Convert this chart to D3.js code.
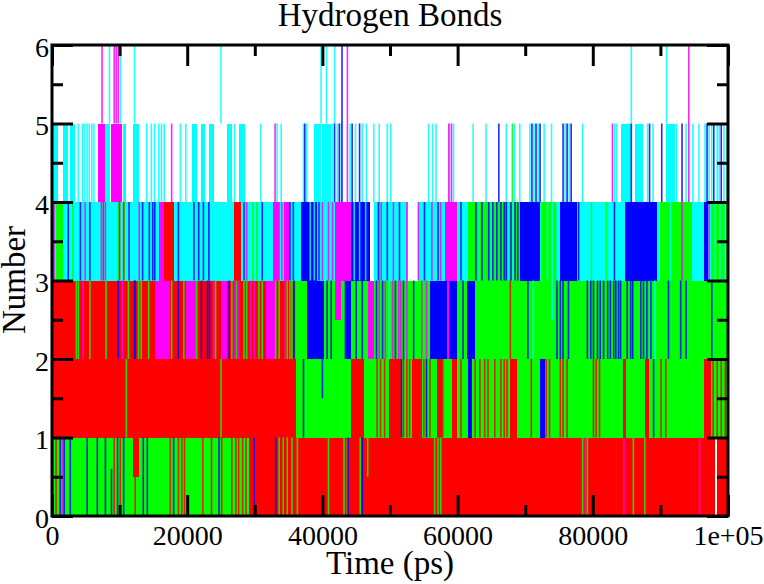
<!DOCTYPE html>
<html>
<head>
<meta charset="utf-8">
<script src="https://cdn.jsdelivr.net/npm/d3@7"></script>
<style>
  body { margin: 0; background: #fff; }
  svg text { font-family: "Liberation Serif", "Times New Roman", Tinos, "DejaVu Serif", serif; fill: #000; }
</style>
</head>
<body>
<svg id="chart" width="764" height="584"></svg>
<script>
var serifFont = '"Liberation Serif", "Times New Roman", Tinos, "DejaVu Serif", serif';

// axis ticks
var xMajor = [0, 20000, 40000, 60000, 80000, 100000];
var xMinor = [10000, 30000, 50000, 70000, 90000];
var xLabels = ["0", "20000", "40000", "60000", "80000", "1e+05"];
var yMajor = [0, 1, 2, 3, 4, 5, 6];
var yMinor = [0.5, 1.5, 2.5, 3.5, 4.5, 5.5];

// each set: bands = [tStart, tEnd, low, high] where the count
// flickers densely between low and high, lines = [t, low, high] single excursions
var cyanBands = [
  [0, 46900, 3, 4], [47700, 52600, 3, 4], [54100, 100000, 3, 4],
  [0, 900, 4, 5], [1600, 2400, 4, 5], [2700, 3400, 4, 5], [7900, 8600, 4, 5],
  [10500, 11000, 4, 5], [12000, 12800, 4, 5], [20700, 21400, 4, 5], [22000, 22600, 4, 5],
  [23200, 23900, 4, 5], [25900, 26600, 4, 5], [27600, 28500, 4, 5], [38800, 39800, 4, 5],
  [40000, 41300, 4, 5], [84100, 85600, 4, 5], [86300, 87400, 4, 5], [90800, 92100, 4, 5]
];
var cyanLines = [
  [8500,5,6],[10100,5,6],[12200,5,6],[25000,5,6],[39800,5,6],[40600,5,6],[41800,5,6],[85700,5,6],[90900,5,6],
  [3900,4,5],[4500,4,5],[4800,4,5],[5200,4,5],[5500,4,5],[5900,4,5],[6200,4,5],
  [14000,4,5],[14700,4,5],[15200,4,5],[15800,4,5],[16200,4,5],[16600,4,5],[19000,4,5],[19800,4,5],
  [27000,4,5],[30900,4,5],[33300,4,5],[33900,4,5],[37200,4,5],[37700,4,5],[41500,4,5],[42200,4,5],
  [42800,4,5],[44100,4,5],[44900,4,5],[45900,4,5],[46500,4,5],[47600,4,5],[48400,4,5],[49600,4,5],
  [50100,4,5],[55700,4,5],[56300,4,5],[56800,4,5],[58800,4,5],[59400,4,5],[62300,4,5],[64200,4,5],
  [67200,4,5],[68400,4,5],[69200,4,5],[70700,4,5],[71300,4,5],[71900,4,5],[72800,4,5],[73900,4,5],
  [75900,4,5],[76500,4,5],[78500,4,5],[83200,4,5],[83500,4,5],[85300,4,5],[88100,4,5],[88900,4,5],
  [92400,4,5],[93800,4,5],[94800,4,5],[95700,4,5],[96600,4,5],[97200,4,5],[97600,4,5],[98400,4,5],
  [98700,4,5],[99400,4,5],[99900,4,5],
  [1800,3,4],[2200,3,4],[12200,3,4],[13800,3,4],[28100,3,4],[36100,3,4],[38200,3,4],[38800,3,4],
  [40400,3,4],[41200,3,4],[44700,3,4],[45500,3,4],[46400,3,4],[47800,3,4],[49200,3,4],[50100,3,4],
  [51000,3,4],[52000,3,4],[54700,3,4],[55600,3,4],[56600,3,4],[60900,3,4],[63200,3,4],[65000,3,4],
  [67500,3,4],[68200,3,4],[73300,3,4],[74000,3,4],[74700,3,4],[84100,3,4],[91500,3,4],[98100,3,4],
  [98800,3,4],[99600,3,4],
  [49900,2,3],[71200,2,3],[74000,2.5,3],[88600,2,3],[89200,2,3]
];

var greenBands = [
  [0, 29100, 0, 1], [36100, 100000, 1, 3], [600, 1600, 3, 4], [61500, 69200, 3, 4],
  [72500, 74700, 3, 4], [90000, 94700, 3, 4], [97500, 100000, 3, 4]
];
var greenLines = [
  [33600,0,1],[34200,0,1],[34800,0,1],[35500,0,1],[36300,0,1],[40900,0,1],[43200,0,1],[43700,0,1],
  [45600,0,1],[46700,0.5,1],[56600,0,1],[57100,0,1],[57500,0,1],[78500,0,1],[79200,0,1],[86000,0,1],[87700,0,1],
  [11000,1,2],[25000,1,2],
  [3600,2,3],[3900,2,3],[5600,2,3],[8000,2,3],[11300,2,3],[12800,2,3],[13200,2,3],[14300,2,3],
  [17700,2,3],[19500,2,3],[21400,2,3],[24200,2,3],[26600,2,3],[27300,2,3],[28400,2,3],[28800,2,3],
  [30600,2,3],[31100,2,3],[33100,2,3],[33600,2,3],[34800,2,3],[35200,2,3],[35500,2,3],[36000,2,3],
  [3100,3,4],[9800,3,4],[10700,3,4],[29700,3,4],[30300,3,4],[72400,3,4],[79800,3,4],[82000,3,4],
  [68100,4,5]
];

var redBands = [
  [0, 36100, 1, 3], [29100, 98100, 0, 1], [98300, 100000, 0, 1], [12000, 12800, 0.5, 1],
  [44300, 46200, 1, 2], [49900, 51700, 1, 2], [53200, 54700, 1, 2], [56900, 57700, 1, 2],
  [59100, 59900, 1, 2], [67800, 68800, 1, 2], [84400, 84900, 1, 2], [87700, 88300, 1, 2],
  [96400, 97500, 1, 2], [16500, 18000, 3, 4], [26900, 27900, 3, 4]
];
var redLines = [
  [100,0,1],[600,0,1],[9200,0,1],[10100,0,1],[12300,0,1],[17500,0,1],[18700,0,1],[19200,0,1],
  [19600,0,1],[22300,0,1],[23600,0,1],[25100,0,1],[26600,0,1],[27200,0,1],[27600,0,1],[28200,0,1],[28700,0,1],
  [48100,1,2],[48600,1,2],[49200,1,2],[52000,1,2],[52500,1,2],[52900,1,2],[55000,1,2],[55900,1,2],
  [57800,1,2],[60500,1,2],[62600,1,2],[63300,1,2],[64000,1,2],[64500,1,2],[65500,1,2],[66400,1,2],
  [66900,1,2],[67300,1,2],[70900,1,2],[73100,1,2],[73600,1,2],[75200,1,2],[75600,1,2],[76200,1,2],
  [80100,1,2],[80500,1,2],[81000,1,2],[90100,1,2],[90800,1,2],[97800,1,2],[98400,1,2],[99000,1,2],[99600,1,2],
  [67800,2,3],
  [100,3,4],[7600,3,4],[10000,3,4],[10600,3,4]
];

var blueBands = [
  [37700, 40300, 2, 3], [43500, 44300, 2, 3], [55900, 58400, 2, 3], [58800, 59900, 2, 3],
  [61400, 62600, 2, 3], [36900, 39200, 3, 4], [44300, 47000, 3, 4], [69200, 72200, 3, 4],
  [75200, 77700, 3, 4], [84800, 89500, 3, 4], [96400, 97100, 3, 4], [61500, 62100, 1, 2], [72200, 72900, 1, 2]
];
var blueLines = [
  [1200,0,1],[1800,0,1],[2700,0,1],[5200,0,1],[6700,0,1],[7900,0,1],[8800,0,0.6],[9700,0,1],[10600,0,1],
  [13500,0,1],[14100,0,1],[18000,0,1],[24700,0,1],[29900,0,1],[33100,0,1],[43800,0,1],[45900,0,1],
  [37200,1,2],[40000,1.5,2],[51700,1,2],[55400,1,2],[89000,1,2],
  [9800,2,3],[12200,2,3],[12300,2,3],[18700,2,3],[22100,2,3],[23000,2,3],[23300,2,3],[26200,2,3],
  [35800,2,3],[40700,2,3],[41300,2,3],[43400,2,3],[45000,2,3],[45900,2,3],[48000,2,3],[48900,2,3],
  [50800,2,3],[52000,2,3],[53500,2,3],[60800,2,3],[70400,2,3],[74700,2,3],[75200,2,3],[75600,2,3],
  [76400,2,3],[79200,2,3],[79700,2,3],[80100,2,3],[80700,2,3],[81100,2,3],[81600,2,3],[82200,2,3],
  [82600,2,3],[83100,2,3],[83400,2,3],[83800,2,3],[84100,2,3],[85100,2,3],[85600,2,3],[85900,2,3],
  [87100,2,3],[87500,2,3],[88000,2,3],[88600,2,3],[91200,2,3],[93000,2,3],[93800,2,3],[97600,2,3],
  [2400,3,4],[4200,3,4],[5600,3,4],[11400,3,4],[13400,3,4],[14400,3,4],[14900,3,4],[15200,3,4],
  [18700,3,4],[21000,3,4],[21700,3,4],[22400,3,4],[23200,3,4],[28400,3,4],[31100,3,4],[35200,3,4],
  [35700,3,4],[39500,3,4],[48300,3,4],[49600,3,4],[51400,3,4],[55100,3,4],[57100,3,4],[60500,3,4],
  [62700,3,4],[63600,3,4],[64600,3,4],[65200,3,4],[65800,3,4],[66400,3,4],[66900,3,4],[67200,3,4],
  [67900,3,4],[68500,3,4],[68900,3,4],[77900,3,4],[83200,3,4],
  [37400,4,5],[41800,4,5],[42500,4,5],[42900,4,6],[44400,4,5],[45500,4,5],[66100,4,5],[71000,4,5],
  [71600,4,5],[72200,4,5],[75600,4,5],[76200,4,5],[76800,4,5],[85700,4,5],[88400,4,5],[90200,4,5],
  [93200,4,5],[96900,4,5],[97900,4,5],[99000,4,5]
];

var magentaBands = [
  [15300, 17500, 2, 3], [19800, 21300, 2, 3], [25000, 25900, 2, 3], [31700, 33100, 2, 3],
  [41800, 42800, 2.5, 3], [46700, 47700, 2, 3], [58400, 58800, 2, 3], [15800, 16500, 3, 4],
  [32700, 33600, 3, 4], [34300, 35100, 3, 4], [41800, 44300, 3, 4], [58100, 59900, 3, 4],
  [6800, 7900, 4, 5], [8800, 10300, 4, 5]
];
var magentaLines = [
  [1500,0,1],[78900,0,1],[84600,0,1],[95800,0,1],
  [4600,2,3],[10400,2,3],[23900,2,3],[27000,2,3],[27600,2,3],[29400,2,3],[29900,2,3],[34500,2,3],
  [48400,2,3],[49300,2,3],[50400,2,3],[51300,2,3],[51600,2,3],[52500,2,3],[54700,2,3],[55400,2,3],
  [100,3,4],[300,3,4],[4900,3,4],[7300,3,4],[7900,3,4],[12900,3,4],[28800,3,4],[33600,3,4],[34000,3,4],
  [40000,3,4],[40900,3,4],[41500,3,4],[48700,3,4],[50500,3,4],[52500,3,4],[54200,3,4],[56200,3,4],
  [57500,3,4],[93200,3,4],[97200,3,4],
  [17700,4,5],[33000,4,5],[43700,4,6],[58700,4,5],[59100,4,5],[82900,4,5],[94200,4,6],
  [7400,5,6],[9200,5,6],[9500,5,6],[9800,5,6]
];

// drawing order of the sets
var sets = [
  { color: "#00ffff", bands: cyanBands, lines: cyanLines },
  { color: "#00ff00", bands: greenBands, lines: greenLines },
  { color: "#ff0000", bands: redBands, lines: redLines },
  { color: "#0000ff", bands: blueBands, lines: blueLines },
  { color: "#ff00ff", bands: magentaBands, lines: magentaLines }
];

var svg = d3.select("#chart");
var x = d3.scaleLinear().domain([0, 100000]).range([52, 728]);
var y = d3.scaleLinear().domain([0, 6]).range([516, 45]);

svg.append("clipPath").attr("id", "plotClip")
  .append("rect")
  .attr("x", x(0)).attr("y", y(6))
  .attr("width", x(100000) - x(0)).attr("height", y(0) - y(6));

var plot = svg.append("g").attr("clip-path", "url(#plotClip)");

// first the dense bands, then the single excursions on top
sets.forEach(function (s) {
  plot.append("g")
    .selectAll("rect")
    .data(s.bands)
    .join("rect")
    .attr("x", function (d) { return x(d[0]); })
    .attr("width", function (d) { return x(d[1]) - x(d[0]); })
    .attr("y", function (d) { return y(d[3]); })
    .attr("height", function (d) { return y(d[2]) - y(d[3]); })
    .attr("fill", s.color)
    .attr("shape-rendering", "crispEdges");
});
sets.forEach(function (s) {
  plot.append("g")
    .selectAll("line")
    .data(s.lines)
    .join("line")
    .attr("x1", function (d) { return x(d[0]); })
    .attr("x2", function (d) { return x(d[0]); })
    .attr("y1", function (d) { return y(d[1]); })
    .attr("y2", function (d) { return y(d[2]); })
    .attr("stroke", s.color)
    .attr("stroke-width", 1.6)
    .attr("stroke-opacity", 0.85);
});

// axes with inward ticks on all four sides
function styleAxis(g) {
  g.attr("font-family", serifFont).attr("font-size", 28);
  g.select(".domain").remove();
  g.selectAll(".tick line").attr("stroke", "#000").attr("stroke-width", 3);
  g.selectAll("text").style("font-family", serifFont).style("font-size", "28px").attr("fill", "#000");
}

svg.append("g").attr("transform", "translate(0," + y(0) + ")")
  .call(d3.axisBottom(x).tickValues(xMajor).tickSizeInner(-21).tickSizeOuter(0).tickPadding(9)
    .tickFormat(function (d, i) { return xLabels[i]; }))
  .call(styleAxis);
svg.append("g").attr("transform", "translate(0," + y(0) + ")")
  .call(d3.axisBottom(x).tickValues(xMinor).tickSizeInner(-11).tickSizeOuter(0).tickFormat(""))
  .call(styleAxis);
svg.append("g").attr("transform", "translate(0," + y(6) + ")")
  .call(d3.axisTop(x).tickValues(xMajor).tickSizeInner(-21).tickSizeOuter(0).tickFormat(""))
  .call(styleAxis);
svg.append("g").attr("transform", "translate(0," + y(6) + ")")
  .call(d3.axisTop(x).tickValues(xMinor).tickSizeInner(-11).tickSizeOuter(0).tickFormat(""))
  .call(styleAxis);

svg.append("g").attr("transform", "translate(" + x(0) + ",0)")
  .call(d3.axisLeft(y).tickValues(yMajor).tickSizeInner(-21).tickSizeOuter(0).tickPadding(3)
    .tickFormat(d3.format("d")))
  .call(styleAxis)
  .selectAll("text").attr("dy", "0.4em");
svg.append("g").attr("transform", "translate(" + x(0) + ",0)")
  .call(d3.axisLeft(y).tickValues(yMinor).tickSizeInner(-11).tickSizeOuter(0).tickFormat(""))
  .call(styleAxis);
svg.append("g").attr("transform", "translate(" + x(100000) + ",0)")
  .call(d3.axisRight(y).tickValues(yMajor).tickSizeInner(-21).tickSizeOuter(0).tickFormat(""))
  .call(styleAxis);
svg.append("g").attr("transform", "translate(" + x(100000) + ",0)")
  .call(d3.axisRight(y).tickValues(yMinor).tickSizeInner(-11).tickSizeOuter(0).tickFormat(""))
  .call(styleAxis);

// frame
svg.append("rect")
  .attr("x", x(0)).attr("y", y(6))
  .attr("width", x(100000) - x(0)).attr("height", y(0) - y(6))
  .attr("fill", "none").attr("stroke", "#000").attr("stroke-width", 3);

// titles
function label(sel) {
  return sel.attr("text-anchor", "middle").attr("font-family", serifFont)
    .style("font-family", serifFont).style("font-size", "33px");
}
svg.append("text").attr("x", 390).attr("y", 26).call(label).text("Hydrogen Bonds");
svg.append("text").attr("x", 390).attr("y", 574).call(label).text("Time (ps)");
svg.append("text").attr("transform", "translate(25,280) rotate(-90)").call(label).text("Number");
</script>
</body>
</html>
